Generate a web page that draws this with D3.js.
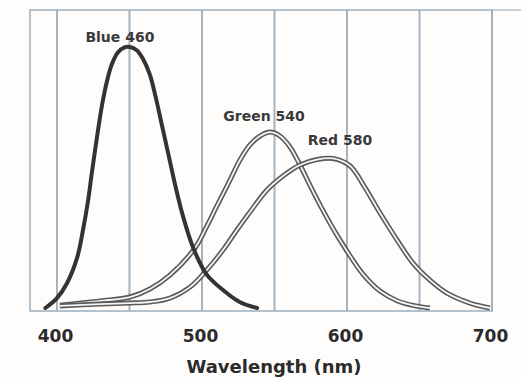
<!DOCTYPE html>
<html>
<head>
<meta charset="utf-8">
<script src="https://cdn.jsdelivr.net/npm/d3@7"></script>
<style>
  html, body { margin: 0; padding: 0; background: #fff; }
  svg { display: block; }
</style>
</head>
<body>
<div id="chart"></div>
<script>
// cone sensitivity curves, values in % of blue peak
var blueNm  = [392, 400, 407, 414, 418, 421.4, 424.1, 427.6, 431, 434.5, 437.9, 442.1, 446.2, 450.3, 455, 459, 464, 468, 472, 477, 482, 487, 494, 503, 514.5, 526, 538];
var blueVal = [0, 3.8, 9.6, 19.5, 30, 41, 52, 65.5, 77.5, 87, 93.5, 98, 99.8, 100, 98.8, 95.8, 89.5, 81, 71, 58.5, 46, 35, 23, 13, 6.9, 2.3, 0];

var greenNm  = [402, 429.7, 450.3, 464.1, 477.9, 495.2, 503.4, 510.3, 519.3, 526.2, 533.1, 540, 546.9, 553.8, 560.7, 567.6, 574.5, 581.4, 588.3, 595.2, 602.1, 611, 622.8, 634.5, 645.5, 657.2];
var greenVal = [1.1, 2.7, 4.2, 7.3, 12.6, 23, 31.4, 39.1, 49, 56.7, 62.5, 65.9, 67.4, 65.9, 61.7, 54.8, 47, 39.5, 32.5, 26, 20, 13, 6.5, 2.8, 1, 0];

var redNm  = [402, 429.7, 450.3, 464.1, 477.9, 491.7, 503.4, 514.5, 524.1, 533.1, 544.8, 555.9, 567.6, 579.3, 590.3, 602, 612, 622.8, 634.5, 645.5, 657.2, 669, 684.8, 698.6];
var redVal = [0.8, 1.5, 1.9, 2.3, 3.8, 8, 14.6, 22.2, 29.9, 36.8, 45.2, 50.6, 54.8, 56.9, 57.3, 54.5, 46.5, 36.4, 26.1, 17.2, 10.7, 5.7, 1.9, 0];

var gridNm = [400, 450, 500, 550, 600, 650, 700];
var tickNm = [400, 500, 600, 700];

var labels = ['Blue 460', 'Green 540', 'Red 580'];
var labelNm = [443.4, 542.8, 595.2];
var labelVal = [101.9, 71.6, 62.5];

var W = 521, H = 381;
var box = { left: 30, right: 492, top: 10, bottom: 311 };

var x = d3.scaleLinear().domain([381.4, 700]).range([box.left, box.right]);
var y = d3.scaleLinear().domain([-1.15, 114.2]).range([box.bottom, box.top]);

var svg = d3.select('#chart').append('svg')
    .attr('width', W)
    .attr('height', H);

svg.append('rect').attr('x', 0).attr('y', 0).attr('width', W).attr('height', H).attr('fill', '#fffdfc');

var gridColor = '#a3b3bf';

// grid lines
svg.append('g').selectAll('line')
    .data(gridNm)
    .enter()
    .append('line')
    .attr('x1', function(d) { return x(d); })
    .attr('x2', function(d) { return x(d); })
    .attr('y1', box.top)
    .attr('y2', box.bottom)
    .attr('stroke', gridColor)
    .attr('stroke-width', 2);

// frame
svg.append('rect')
    .attr('x', box.left)
    .attr('y', box.top)
    .attr('width', box.right - box.left)
    .attr('height', box.bottom - box.top)
    .attr('fill', 'none')
    .attr('stroke', gridColor)
    .attr('stroke-width', 1.6);
svg.append('line')
    .attr('x1', box.right).attr('x2', W)
    .attr('y1', box.top).attr('y2', box.top)
    .attr('stroke', gridColor)
    .attr('stroke-width', 1.2);

var line = d3.line()
    .x(function(d) { return x(d[0]); })
    .y(function(d) { return y(d[1]); })
    .curve(d3.curveCatmullRom.alpha(0.5));

function pairs(a, b) {
    return a.map(function(v, i) { return [v, b[i]]; });
}

// double-stroked curves (green, red)
[pairs(greenNm, greenVal), pairs(redNm, redVal)].forEach(function(pts) {
    svg.append('path')
        .attr('d', line(pts))
        .attr('fill', 'none')
        .attr('stroke', '#595959')
        .attr('stroke-width', 5);
    svg.append('path')
        .attr('d', line(pts))
        .attr('fill', 'none')
        .attr('stroke', '#f4f4f4')
        .attr('stroke-width', 1.8);
});

// blue: solid heavy line
svg.append('path')
    .attr('d', line(pairs(blueNm, blueVal)))
    .attr('fill', 'none')
    .attr('stroke', '#333')
    .attr('stroke-width', 4)
    .attr('stroke-linecap', 'round');

// curve labels
svg.append('g').selectAll('text')
    .data(labels)
    .enter()
    .append('text')
    .attr('x', function(d, i) { return x(labelNm[i]); })
    .attr('y', function(d, i) { return y(labelVal[i]); })
    .attr('text-anchor', 'middle')
    .attr('font-family', 'DejaVu Sans, sans-serif')
    .attr('font-weight', 'bold')
    .attr('font-size', 14)
    .attr('fill', '#3a3a3a')
    .text(function(d) { return d; });

// x axis labels
var axis = d3.axisBottom(x)
    .tickValues(tickNm)
    .tickSize(0)
    .tickPadding(0)
    .tickFormat(d3.format('d'));

var gAxis = svg.append('g')
    .attr('transform', 'translate(-2,' + (box.bottom + 19) + ')')
    .call(axis);
gAxis.select('.domain').remove();
gAxis.selectAll('text')
    .attr('font-family', 'DejaVu Sans, sans-serif')
    .attr('font-weight', 'bold')
    .attr('font-size', 17)
    .attr('fill', '#2b2b2b');

svg.append('text')
    .attr('x', 274)
    .attr('y', 373)
    .attr('text-anchor', 'middle')
    .attr('font-family', 'DejaVu Sans, sans-serif')
    .attr('font-weight', 'bold')
    .attr('font-size', 18)
    .attr('fill', '#2b2b2b')
    .text('Wavelength (nm)');
</script>
</body>
</html>
